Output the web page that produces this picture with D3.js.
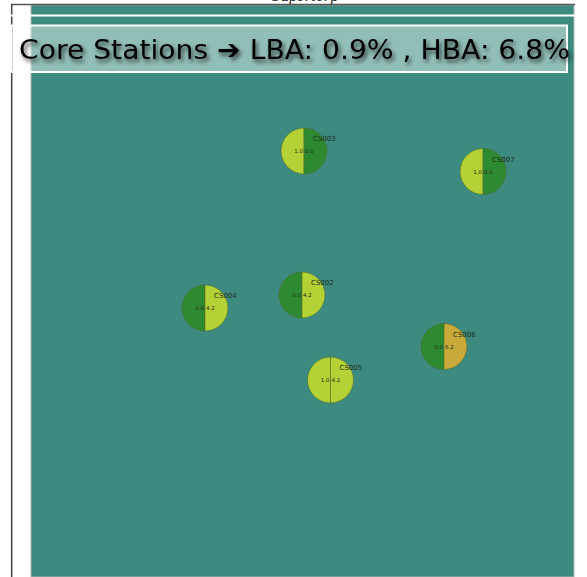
<!DOCTYPE html>
<head>
  <meta charset="utf-8">
  <script src="https://d3js.org/d3.v7.min.js"></script>
  <style>
    body { margin: 0; background: white; }
    svg { display: block; }
    .name { font: 7px "DejaVu Sans", sans-serif; fill: #1a2a1a; }
    .val { font: 5.5px "DejaVu Sans", sans-serif; fill: #1a2a1a; }
  </style>
</head>

<body>
  <svg width="587" height="577"></svg>

  <script>
    // station data (east / north offsets in metres from the field centre)
    const stations = ['CS002', 'CS003', 'CS004', 'CS005', 'CS006', 'CS007'];
    const east = [-0.5, 1.5, -97.5, 28, 141.5, 180.5];
    const north = [-4, 140, -17, -89, -55.5, 119.5];
    const lba = [0.0, 1.0, 0.0, 1.0, 0.0, 1.0];
    const hba = [4.2, 0.0, 4.2, 4.2, 6.2, 0.0];
    const title = 'Core Stations \u2794 LBA: 0.9% , HBA: 6.8%';

    const svg = d3.select('svg');
    const W = +svg.attr('width');
    const H = +svg.attr('height');

    const defs = svg.append('defs');
    defs.append('filter').attr('id', 'shadow')
      .attr('x', '-5%').attr('y', '-30%').attr('width', '110%').attr('height', '160%')
      .append('feDropShadow')
      .attr('dx', 2).attr('dy', 3).attr('stdDeviation', 2)
      .attr('flood-color', '#111').attr('flood-opacity', 0.7);

    // map frame
    svg.append('text')
      .attr('x', 305).attr('y', 0.5)
      .attr('text-anchor', 'middle')
      .style('font', 'italic 13px "DejaVu Serif", serif')
      .text('Superterp');

    svg.append('rect')
      .attr('x', 31).attr('y', 5).attr('width', 543).attr('height', H - 5)
      .attr('fill', '#3d8b80')
      .attr('stroke', '#a9b7b4').attr('stroke-width', 1);

    svg.append('line')
      .attr('x1', 11).attr('x2', 575).attr('y1', 4.5).attr('y2', 4.5)
      .attr('stroke', '#555').attr('stroke-width', 1.5);
    svg.append('line')
      .attr('x1', 11.7).attr('x2', 11.7).attr('y1', 4).attr('y2', H)
      .attr('stroke', '#444').attr('stroke-width', 1.5);
    svg.append('line')
      .attr('x1', 0).attr('x2', W).attr('y1', 15.5).attr('y2', 15.5)
      .attr('stroke', 'white').attr('stroke-width', 2);

    // scales
    const x = d3.scaleLinear().domain([-271.5, 271.5]).range([31, 574]);
    const y = d3.scaleLinear().domain([-286, 286]).range([H, 5]);
    const color = d3.scaleThreshold()
      .domain([0.5, 5])
      .range(['#2e8a30', '#b4d236', '#c8aa3a']);

    const r = 23;
    const pie = d3.pie().value(1).sort(null)
      .startAngle(Math.PI).endAngle(3 * Math.PI);
    const arc = d3.arc().innerRadius(0).outerRadius(r);

    const data = stations.map((s, i) => ({
      name: s, e: east[i], n: north[i], vals: [lba[i], hba[i]]
    }));

    const g = svg.append('g').selectAll('g')
      .data(data)
      .enter().append('g')
      .attr('transform', d => `translate(${x(d.e)},${y(d.n)})`);

    g.selectAll('path')
      .data(d => pie(d.vals))
      .enter().append('path')
      .attr('d', arc)
      .attr('fill', d => color(d.data))
      .attr('stroke', '#4f6a2a')
      .attr('stroke-opacity', 0.7)
      .attr('stroke-width', 0.8);

    g.append('text').attr('class', 'val')
      .attr('x', -1).attr('y', 2)
      .attr('text-anchor', 'end')
      .text(d => d.vals[0].toFixed(1));
    g.append('text').attr('class', 'val')
      .attr('x', 1).attr('y', 2)
      .text(d => d.vals[1].toFixed(1));

    g.append('text').attr('class', 'name')
      .attr('x', 9).attr('y', -10)
      .text(d => d.name);

    // title box
    svg.append('rect')
      .attr('x', 11).attr('y', 25.5).attr('width', 556).attr('height', 46.5)
      .attr('fill', 'white').attr('fill-opacity', 0.44)
      .attr('stroke', 'white').attr('stroke-width', 2);

    svg.append('text')
      .attr('x', 19).attr('y', 59)
      .attr('textLength', 551)
      .attr('lengthAdjust', 'spacingAndGlyphs')
      .attr('filter', 'url(#shadow)')
      .style('font', '27px "DejaVu Sans", sans-serif')
      .style('fill', 'black')
      .text(title);
  </script>
</body>
